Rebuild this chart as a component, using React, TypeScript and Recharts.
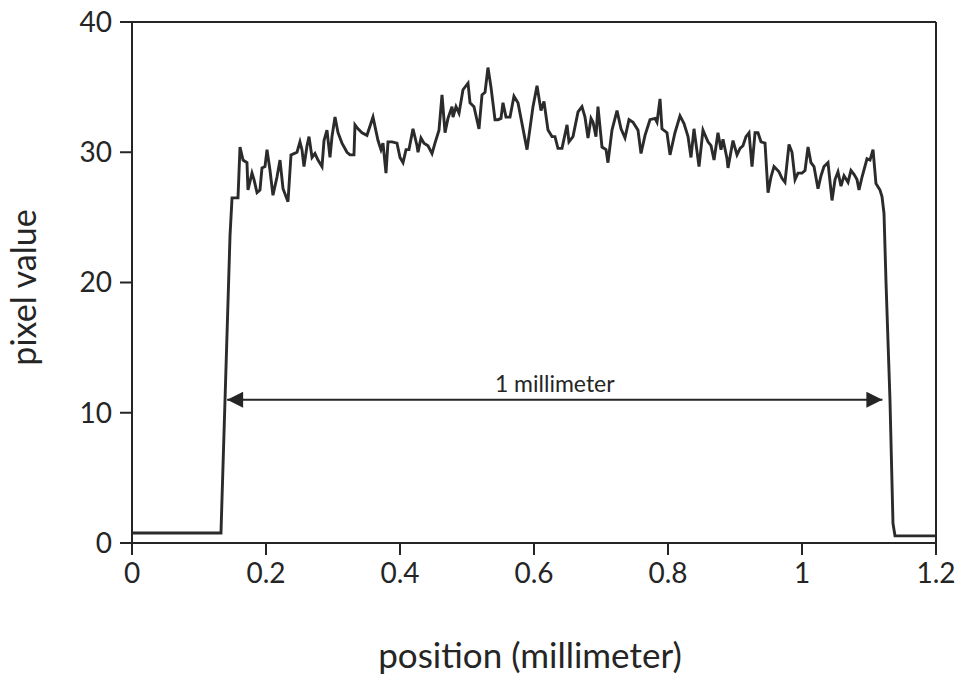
import React from 'react';
import { LineChart, Line, XAxis, YAxis, ReferenceLine } from 'recharts';

// position (millimeter)
const positions: number[] = [
  0, 0.131, 0.1328, 0.1463, 0.1493, 0.1582, 0.1612, 0.1657, 0.1716, 0.1731,
  0.1791, 0.1821, 0.1866, 0.191, 0.194, 0.1985, 0.2015, 0.206, 0.2104, 0.2164,
  0.2209, 0.2254, 0.2328, 0.2373, 0.2418, 0.2463, 0.2507, 0.2537, 0.2567, 0.2612,
  0.2642, 0.2687, 0.2731, 0.2776, 0.2836, 0.2866, 0.291, 0.2955, 0.2985, 0.303,
  0.3075, 0.3134, 0.3209, 0.3254, 0.3313, 0.3328, 0.3373, 0.3433, 0.3507, 0.3597,
  0.3672, 0.3716, 0.3746, 0.3791, 0.3821, 0.3881, 0.3955, 0.4, 0.4045, 0.409,
  0.4134, 0.4194, 0.4254, 0.4269, 0.4313, 0.4358, 0.4418, 0.4478, 0.4522, 0.4582,
  0.4627, 0.4672, 0.4716, 0.4776, 0.4791, 0.4836, 0.4881, 0.494, 0.5015, 0.5045,
  0.5104, 0.5179, 0.5224, 0.5269, 0.5313, 0.5358, 0.5418, 0.5463, 0.5507, 0.5537,
  0.5582, 0.5642, 0.5701, 0.5761, 0.5896, 0.5985, 0.6045, 0.6104, 0.6149, 0.6209,
  0.6269, 0.6313, 0.6358, 0.6418, 0.6493, 0.6522, 0.6582, 0.6657, 0.6716, 0.6761,
  0.6806, 0.6851, 0.6881, 0.6925, 0.6955, 0.7015, 0.7075, 0.7104, 0.7164, 0.7239,
  0.7299, 0.7358, 0.7418, 0.7478, 0.7552, 0.7597, 0.7657, 0.7731, 0.7806, 0.7836,
  0.7881, 0.791, 0.7985, 0.803, 0.8104, 0.8179, 0.8239, 0.8299, 0.8343, 0.8388,
  0.8463, 0.8522, 0.8597, 0.8642, 0.8687, 0.8746, 0.8791, 0.8821, 0.8881, 0.8896,
  0.897, 0.903, 0.9075, 0.9119, 0.9164, 0.9209, 0.9254, 0.9299, 0.9343, 0.9388,
  0.9448, 0.9493, 0.9537, 0.9582, 0.9657, 0.9701, 0.9746, 0.9806, 0.9851, 0.9896,
  0.994, 1.0, 1.0045, 1.009, 1.0134, 1.0179, 1.0239, 1.0284, 1.0328, 1.0388,
  1.0448, 1.0493, 1.0537, 1.0582, 1.0627, 1.0687, 1.0731, 1.0776, 1.0821, 1.0851,
  1.0896, 1.097, 1.1015, 1.106, 1.1104, 1.1164, 1.1194, 1.1224, 1.1254, 1.1313,
  1.1358, 1.1388, 1.2,
];

// pixel value
const pixelValues: number[] = [
  0.77, 0.77, 0.77, 23.6, 26.5, 26.5, 30.4, 29.4, 29.2, 27.1,
  28.4, 27.9, 26.9, 27.1, 28.8, 28.9, 30.2, 28.6, 26.7, 28.1,
  29.4, 27.2, 26.2, 29.8, 29.9, 30.0, 30.8, 30.2, 28.9, 30.5,
  31.2, 29.6, 29.9, 29.4, 28.9, 30.9, 31.7, 29.6, 31.2, 32.7,
  31.5, 30.7, 30.0, 29.8, 29.8, 32.1, 31.8, 31.5, 31.3, 32.7,
  30.9, 30.2, 30.7, 28.4, 30.8, 30.8, 30.7, 29.6, 29.2, 30.2,
  30.2, 31.8, 30.5, 30.0, 31.1, 30.7, 30.5, 29.9, 30.7, 31.7,
  34.4, 31.5, 32.6, 33.5, 32.7, 33.5, 33.0, 34.8, 35.3, 33.8,
  33.5, 31.8, 34.4, 34.6, 36.5, 35.0, 32.5, 32.5, 32.6, 33.8,
  32.7, 32.7, 34.3, 33.8, 30.2, 33.5, 35.1, 33.2, 33.9, 31.7,
  31.2, 31.2, 30.3, 30.3, 32.1, 30.8, 31.2, 33.1, 33.5, 32.7,
  31.1, 32.6, 32.3, 31.2, 33.5, 30.4, 30.2, 29.2, 31.7, 33.2,
  31.8, 31.1, 32.5, 32.3, 31.7, 29.9, 31.3, 32.5, 32.6, 32.3,
  34.1, 31.8, 31.5, 29.8, 31.5, 32.8, 32.2, 31.2, 29.6, 31.8,
  28.9, 31.7, 30.8, 30.5, 29.4, 31.5, 30.2, 31.0, 29.5, 28.8,
  30.9, 29.8, 30.3, 30.5, 31.2, 31.5, 28.9, 31.5, 31.5, 30.8,
  30.7, 26.9, 28.1, 28.9, 28.5, 28.0, 27.7, 30.6, 30.0, 27.9,
  28.4, 28.4, 28.6, 30.4, 29.2, 28.9, 27.2, 28.2, 28.9, 29.2,
  26.3, 27.9, 28.5, 27.4, 28.2, 27.7, 28.6, 28.3, 27.9, 27.1,
  28.1, 29.5, 29.4, 30.2, 27.6, 27.1, 26.6, 25.3, 20.0, 11.0,
  1.5, 0.55, 0.55,
];

const xTicks: number[] = [0, 0.2, 0.4, 0.6, 0.8, 1, 1.2];
const yTicks: number[] = [0, 10, 20, 30, 40];

const arrowFrom = 0.142;
const arrowTo = 1.12;
const arrowLevel = 11;
const arrowText = '1 millimeter';
const xTitle = 'position (millimeter)';
const yTitle = 'pixel value';

const data = positions.map((x, i) => ({ x, v: pixelValues[i] }));

const INK = '#252525';
const FONT = 'Lato, "Open Sans", sans-serif';

const axisLine = { stroke: INK, strokeWidth: 2 };
const tickLine = { stroke: INK, strokeWidth: 2 };
const tickStyle = { fill: INK, fontSize: 28, fontFamily: FONT };

export default function App() {
  return (
    <div style={{ position: 'absolute', left: 0, top: 0, width: 956, height: 678, background: '#fff', fontFamily: FONT }}>
      <LineChart width={956} height={678} data={data} margin={{ top: 0, right: 0, bottom: 0, left: 0 }}>
        <defs>
          <marker
            id="arrowHead"
            viewBox="0 0 10 10"
            refX="10"
            refY="5"
            markerWidth="10"
            markerHeight="8"
            markerUnits="strokeWidth"
            orient="auto-start-reverse"
          >
            <path d="M0,0 L10,5 L0,10 z" fill={INK} />
          </marker>
        </defs>
        <XAxis
          xAxisId="b"
          dataKey="x"
          type="number"
          domain={[0, 1.2]}
          ticks={xTicks}
          interval={0}
          height={135}
          tickSize={12}
          tickMargin={8}
          axisLine={axisLine}
          tickLine={tickLine}
          tick={tickStyle}
          label={{
            content: (p: any) => {
              const vb = p.viewBox;
              return (
                <text x={vb.x + vb.width / 2 - 4} y={vb.y + 125} textAnchor="middle" fill={INK} fontSize={35} fontFamily={FONT}>
                  {xTitle}
                </text>
              );
            },
          }}
        />
        <XAxis
          xAxisId="t"
          orientation="top"
          dataKey="x"
          type="number"
          domain={[0, 1.2]}
          ticks={xTicks}
          interval={0}
          height={22}
          tickSize={12}
          axisLine={axisLine}
          tickLine={tickLine}
          tick={false}
        />
        <YAxis
          yAxisId="l"
          type="number"
          domain={[0, 40]}
          ticks={yTicks}
          interval={0}
          width={132}
          tickSize={12}
          tickMargin={8}
          axisLine={axisLine}
          tickLine={tickLine}
          tick={tickStyle}
          label={{
            content: (p: any) => {
              const vb = p.viewBox;
              const cx = vb.x + 36;
              const cy = vb.y + vb.height / 2 + 5;
              return (
                <text x={cx} y={cy} transform={`rotate(-90 ${cx} ${cy})`} textAnchor="middle" fill={INK} fontSize={34} fontFamily={FONT}>
                  {yTitle}
                </text>
              );
            },
          }}
        />
        <YAxis
          yAxisId="r"
          orientation="right"
          type="number"
          domain={[0, 40]}
          ticks={yTicks}
          interval={0}
          width={20}
          tickSize={12}
          axisLine={axisLine}
          tickLine={tickLine}
          tick={false}
        />
        <ReferenceLine
          xAxisId="b"
          yAxisId="l"
          segment={[{ x: arrowFrom, y: arrowLevel }, { x: arrowTo, y: arrowLevel }]}
          stroke={INK}
          strokeWidth={2}
          markerStart="url(#arrowHead)"
          markerEnd="url(#arrowHead)"
          label={{ value: arrowText, position: 'top', offset: 8, fill: INK, fontSize: 23, fontFamily: FONT }}
        />
        <Line
          xAxisId="b"
          yAxisId="l"
          type="linear"
          dataKey="v"
          stroke="#2b2b2b"
          strokeWidth={2.9}
          strokeLinejoin="miter"
          dot={false}
          activeDot={false}
          isAnimationActive={false}
        />
      </LineChart>
    </div>
  );
}
